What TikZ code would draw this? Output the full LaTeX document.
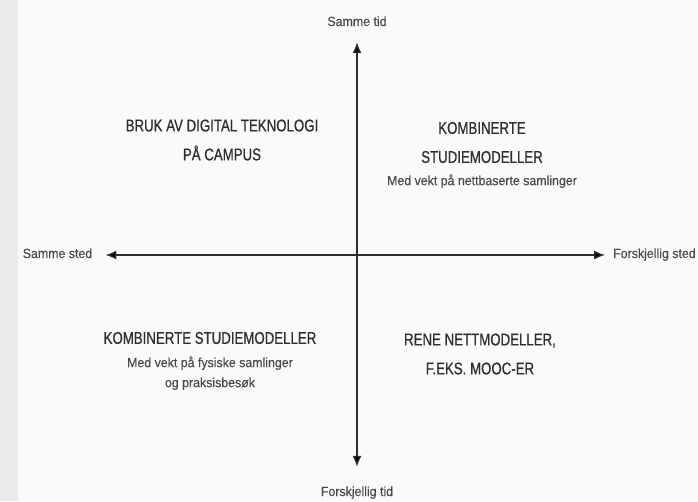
\documentclass[tikz,border=0pt]{standalone}
\usepackage{fontspec}
\usepackage{tikz}
\usetikzlibrary{arrows.meta}
\usetikzlibrary{calc}

\newfontfamily\headfont[FakeStretch=0.78,FakeBold=0.6]{Liberation Sans}
\newfontfamily\smallfont[FakeStretch=0.93,FakeBold=0.25]{Liberation Sans}
\definecolor{ink}{HTML}{2E2E2E}
\definecolor{soft}{HTML}{4A4A4A}
\definecolor{paper}{HTML}{FAFAFA}
\definecolor{edge}{HTML}{EBEBEB}

\tikzset{
	head/.style={align=center,inner sep=0pt,text=ink,font=\headfont\fontsize{17}{29}\selectfont},
	sub/.style={align=center,inner sep=0pt,text=soft,font=\smallfont\fontsize{13.3}{20}\selectfont},
	axislabel/.style={inner sep=0pt,text=soft,text height=9pt,text depth=3pt,font=\smallfont\fontsize{13.3}{16}\selectfont}
}

\begin{document}
\begin{tikzpicture}[x=1pt,y=-1pt,>/.tip={Latex[length=11pt,width=9pt]}]
	\useasboundingbox (0,0) rectangle (698,501);
	\fill[paper] (0,0) rectangle (698,501);
	\fill[edge] (0,0) rectangle (18,501);

	% axis labels
	\draw (357,23) node (sametime) [axislabel] {Samme tid};
	\draw (357,493) node (difftime) [axislabel] {Forskjellig tid};
	\draw (57.5,255) node (sameplace) [axislabel] {Samme sted};
	\draw (613,255) node (diffplace) [axislabel,anchor=west] {Forskjellig sted};

	% axes
	\path[<->,draw=ink,line width=1.3pt] (sametime) edge [shorten <=13pt,shorten >=20pt] (difftime);
	\path[<->,draw=ink,line width=1.3pt] (sameplace) edge [shorten <=13pt,shorten >=8pt] (diffplace);

	% quadrants
	\draw (222,140) node (campus) [head] {BRUK AV DIGITAL TEKNOLOGI\\PÅ CAMPUS};
	\draw (482,142.5) node (online) [head] {KOMBINERTE\\STUDIEMODELLER};
	\node [sub,below=11pt] at (online.south) {Med vekt på nettbaserte samlinger};
	\draw (210,338) node (physical) [head] {KOMBINERTE STUDIEMODELLER};
	\node [sub,below=12pt] at (physical.south) {Med vekt på fysiske samlinger\\og praksisbesøk};
	\draw (480,354) node (mooc) [head] {RENE NETTMODELLER,\\F.EKS. MOOC-ER};
\end{tikzpicture}
\end{document}
